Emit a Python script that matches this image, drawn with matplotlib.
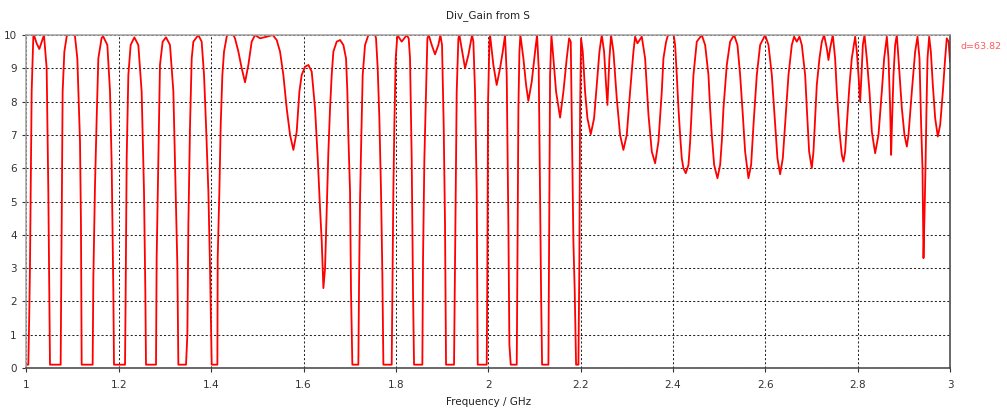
import matplotlib
matplotlib.use('agg')
import matplotlib.pyplot as plt

# frequency (GHz) and Div_Gain values
freq_ghz = [
    1.000, 1.004, 1.006, 1.0076, 1.0112, 1.0148, 1.0162, 1.022, 1.0278, 1.033,
    1.0379, 1.0437, 1.0473, 1.0509, 1.074, 1.0762, 1.0783, 1.082, 1.087, 1.0957,
    1.1051, 1.1101, 1.1159, 1.118, 1.1195, 1.1433, 1.1448, 1.1484, 1.152, 1.1556,
    1.1628, 1.1664, 1.1751, 1.1809, 1.1845, 1.1881, 1.1895, 1.2134, 1.2145, 1.217,
    1.2206, 1.2256, 1.2336, 1.2422, 1.2494, 1.2545, 1.2574, 1.2588, 1.2805, 1.2819,
    1.2855, 1.2891, 1.2949, 1.3022, 1.3108, 1.3181, 1.3231, 1.3267, 1.3289, 1.3455,
    1.3484, 1.3506, 1.3542, 1.3578, 1.3614, 1.3722, 1.3794, 1.3845, 1.3888, 1.3939,
    1.3975, 1.4011, 1.4134, 1.4141, 1.4177, 1.4206, 1.4242, 1.4278, 1.4336, 1.4408,
    1.4516, 1.4589, 1.4661, 1.4733, 1.4805, 1.4877, 1.495, 1.5058, 1.5202, 1.5332,
    1.5419, 1.5491, 1.5563, 1.5635, 1.5708, 1.578, 1.5852, 1.591, 1.596, 1.6033,
    1.6105, 1.6177, 1.6249, 1.6307, 1.6357, 1.6394, 1.643, 1.6466, 1.6502, 1.6538,
    1.6574, 1.661, 1.6646, 1.6718, 1.6791, 1.6863, 1.692, 1.6949, 1.697, 1.7007,
    1.7028, 1.7057, 1.7187, 1.7202, 1.7223, 1.7252, 1.7281, 1.7332, 1.7404, 1.7512,
    1.757, 1.7606, 1.7642, 1.7678, 1.7707, 1.7729, 1.7909, 1.7924, 1.7945, 1.7967,
    1.7996, 1.8032, 1.8126, 1.8234, 1.8277, 1.8306, 1.8342, 1.8371, 1.8393, 1.8573,
    1.8588, 1.8617, 1.8653, 1.8682, 1.8711, 1.8776, 1.8848, 1.892, 1.8963, 1.8999,
    1.9035, 1.9064, 1.9086, 1.9259, 1.9274, 1.9295, 1.9317, 1.9353, 1.9375, 1.9425,
    1.9498, 1.957, 1.9649, 1.9678, 1.9714, 1.975, 1.9772, 1.9967, 1.9981, 1.9996,
    2.0024, 2.0039, 2.0111, 2.0183, 2.0256, 2.0314, 2.0364, 2.04, 2.0436, 2.0458,
    2.0487, 2.0617, 2.0632, 2.0653, 2.0675, 2.0696, 2.0761, 2.0819, 2.0869, 2.0942,
    2.1014, 2.1057, 2.1093, 2.1122, 2.1144, 2.1166, 2.1303, 2.1317, 2.1339, 2.1368,
    2.1411, 2.1469, 2.1556, 2.1628, 2.17, 2.1751, 2.1787, 2.1816, 2.1844, 2.1873,
    2.1902, 2.1953, 2.1974, 2.1989, 2.201, 2.2047, 2.2097, 2.2148, 2.222, 2.2292,
    2.235, 2.2408, 2.2458, 2.2509, 2.2552, 2.2581, 2.2624, 2.266, 2.2711, 2.2783,
    2.2855, 2.2927, 2.3, 2.3072, 2.3144, 2.318, 2.3231, 2.3325, 2.3397, 2.347,
    2.3542, 2.3614, 2.3686, 2.3758, 2.3794, 2.3852, 2.3903, 2.4011, 2.4047, 2.4083,
    2.4119, 2.4155, 2.4191, 2.4227, 2.4278, 2.4336, 2.4372, 2.4408, 2.4444, 2.4516,
    2.4624, 2.4697, 2.4769, 2.4805, 2.4841, 2.4892, 2.4964, 2.5022, 2.5058, 2.5094,
    2.5166, 2.5238, 2.5325, 2.5397, 2.5455, 2.5513, 2.5563, 2.5635, 2.5693, 2.5744,
    2.5816, 2.5888, 2.5996, 2.6069, 2.6141, 2.6213, 2.6263, 2.6321, 2.6379, 2.6429,
    2.6502, 2.6574, 2.6624, 2.6682, 2.674, 2.6791, 2.6863, 2.6899, 2.6949, 2.7007,
    2.7043, 2.7079, 2.7115, 2.7173, 2.7224, 2.7274, 2.7332, 2.7368, 2.7404, 2.7462,
    2.7512, 2.7549, 2.7606, 2.7657, 2.7693, 2.7729, 2.7765, 2.7823, 2.7873, 2.7946,
    2.7982, 2.8018, 2.8054, 2.8083, 2.8112, 2.8148, 2.8198, 2.8256, 2.8307, 2.8379,
    2.8451, 2.8523, 2.8574, 2.8632, 2.8668, 2.8704, 2.8725, 2.8747, 2.8776, 2.8812,
    2.8848, 2.8884, 2.8957, 2.9014, 2.9065, 2.9101, 2.9173, 2.9245, 2.9296, 2.9339,
    2.9375, 2.9404, 2.9426, 2.9448, 2.9469, 2.9491, 2.9513, 2.9549, 2.9585, 2.9628,
    2.9679, 2.9736, 2.9787, 2.9845, 2.9895, 2.993, 2.997, 3.000,
]
div_gain = [
    0.1, 0.1, 1.6, 3.1, 8.3, 9.95, 10.0, 9.75, 9.58, 9.8,
    10.0, 9.0, 5.3, 0.1, 0.1, 4.5, 8.3, 9.5, 9.95, 10.3,
    9.95, 9.3, 6.8, 4.3, 0.1, 0.1, 2.7, 5.5, 7.5, 9.3,
    9.92, 9.95, 9.7, 8.3, 6.1, 2.3, 0.1, 0.1, 1.8, 6.3,
    8.8, 9.7, 9.93, 9.7, 8.3, 5.3, 2.3, 0.1, 0.1, 3.3,
    6.3, 9.1, 9.8, 9.93, 9.7, 8.3, 5.3, 3.1, 0.1, 0.1,
    1.0, 4.3, 7.3, 9.3, 9.8, 10.0, 9.8, 8.8, 7.3, 5.3,
    3.0, 0.1, 0.1, 3.3, 5.3, 7.3, 8.8, 9.5, 9.95, 10.2,
    9.9, 9.5, 9.0, 8.58, 9.1, 9.8, 10.0, 9.9, 9.95, 10.0,
    9.85, 9.5, 8.8, 7.8, 7.0, 6.55, 7.1, 8.3, 8.8, 9.05,
    9.1, 8.9, 7.8, 6.3, 4.8, 3.8, 2.4, 3.0, 4.8, 6.5,
    7.8, 8.8, 9.5, 9.8, 9.85, 9.7, 9.3, 8.3, 7.0, 5.3,
    2.3, 0.1, 0.1, 2.5, 5.0, 7.0, 8.8, 9.7, 10.0, 10.2,
    9.9, 9.0, 7.5, 5.3, 2.8, 0.1, 0.1, 2.3, 5.3, 7.3,
    9.3, 10.0, 9.8, 10.0, 9.9, 9.3, 6.3, 2.3, 0.1, 0.1,
    3.3, 6.3, 8.3, 9.9, 10.0, 9.7, 9.42, 9.7, 10.0, 9.7,
    7.3, 4.3, 0.1, 0.1, 2.3, 5.3, 8.3, 9.9, 10.0, 9.6,
    9.0, 9.4, 10.0, 9.8, 8.3, 5.3, 0.1, 0.1, 3.0, 8.0,
    9.7, 10.0, 9.1, 8.5, 9.0, 9.5, 10.0, 8.8, 4.3, 0.7,
    0.1, 0.1, 3.1, 7.8, 9.5, 10.0, 9.3, 8.5, 8.02, 8.6,
    9.5, 10.0, 9.0, 5.3, 2.3, 0.1, 0.1, 3.3, 8.8, 10.0,
    9.3, 8.3, 7.52, 8.3, 9.3, 9.9, 9.8, 6.8, 3.8, 2.3,
    0.1, 0.1, 3.3, 7.8, 9.9, 9.5, 8.3, 7.5, 7.02, 7.5,
    8.5, 9.5, 10.0, 9.5, 8.5, 7.9, 9.3, 10.0, 9.5, 8.1,
    7.0, 6.55, 7.0, 8.3, 9.5, 9.95, 9.75, 9.95, 9.3, 7.6,
    6.5, 6.15, 6.8, 8.3, 9.3, 9.8, 10.05, 10.05, 9.7, 8.8,
    7.8, 7.0, 6.3, 6.0, 5.85, 6.1, 6.8, 7.8, 8.8, 9.8,
    10.0, 9.7, 8.8, 7.8, 7.0, 6.1, 5.7, 6.1, 6.8, 7.8,
    9.1, 9.8, 10.0, 9.7, 8.8, 7.6, 6.5, 5.7, 6.1, 7.3,
    8.8, 9.7, 10.0, 9.7, 8.8, 7.3, 6.3, 5.82, 6.3, 7.3,
    8.8, 9.7, 9.95, 9.8, 9.95, 9.7, 8.8, 7.8, 6.5, 6.0,
    6.5, 7.5, 8.5, 9.3, 9.8, 10.0, 9.6, 9.25, 9.6, 10.0,
    9.3, 8.3, 7.1, 6.4, 6.2, 6.5, 7.3, 8.5, 9.3, 9.95,
    9.5, 8.8, 8.0, 8.8, 9.7, 10.0, 9.3, 8.3, 7.1, 6.45,
    7.0, 8.3, 9.3, 9.95, 9.3, 7.8, 6.4, 7.5, 8.8, 9.7,
    10.0, 9.3, 7.8, 7.0, 6.65, 7.0, 8.3, 9.5, 9.95, 9.3,
    7.3, 6.0, 3.3, 4.6, 6.0, 7.8, 9.3, 9.95, 9.5, 8.5,
    7.5, 6.95, 7.3, 8.3, 9.3, 9.9, 9.8, 9.2,
]

x_ticks = [1, 1.2, 1.4, 1.6, 1.8, 2, 2.2, 2.4, 2.6, 2.8, 3]
x_labels = ['1', '1.2', '1.4', '1.6', '1.8', '2', '2.2', '2.4', '2.6', '2.8', '3']
y_ticks = list(range(0, 11))

fig = plt.figure(figsize=(10.07, 4.12), dpi=100)
ax = fig.add_axes([0.0263, 0.1068, 0.9171, 0.8082])

ax.plot(freq_ghz, div_gain, color='#ff0000', lw=1.3, solid_joinstyle='round')
ax.set_xlim(1, 3)
ax.set_ylim(0, 10)

ax.set_xticks(x_ticks)
ax.set_xticklabels(x_labels)
ax.set_yticks(y_ticks)
ax.tick_params(axis='both', labelsize=7.5, colors='#333333', length=3, width=0.8)
ax.tick_params(axis='x', pad=6)
ax.tick_params(axis='y', pad=4)

# dashed black grid
ax.grid(True, color='black', linestyle=(0, (2, 2)), lw=0.75, alpha=0.85)
ax.set_axisbelow(True)

# frame: light on top/left, dark on bottom/right
ax.spines['top'].set_color('#a0a0a0')
ax.spines['left'].set_color('#a0a0a0')
ax.spines['right'].set_color('#404040')
ax.spines['bottom'].set_color('#404040')
for s in ax.spines.values():
    s.set_linewidth(1.1)

ax.set_title('Div_Gain from S', fontsize=7.5, color='#222222', pad=12)
ax.set_xlabel('Frequency / GHz', fontsize=7.5, color='#222222', labelpad=5)

fig.text(0.954, 0.886, 'd=63.82', color='#ff5a5a', fontsize=6.8, va='center', ha='left')

fig.savefig('out.png', dpi=100)
